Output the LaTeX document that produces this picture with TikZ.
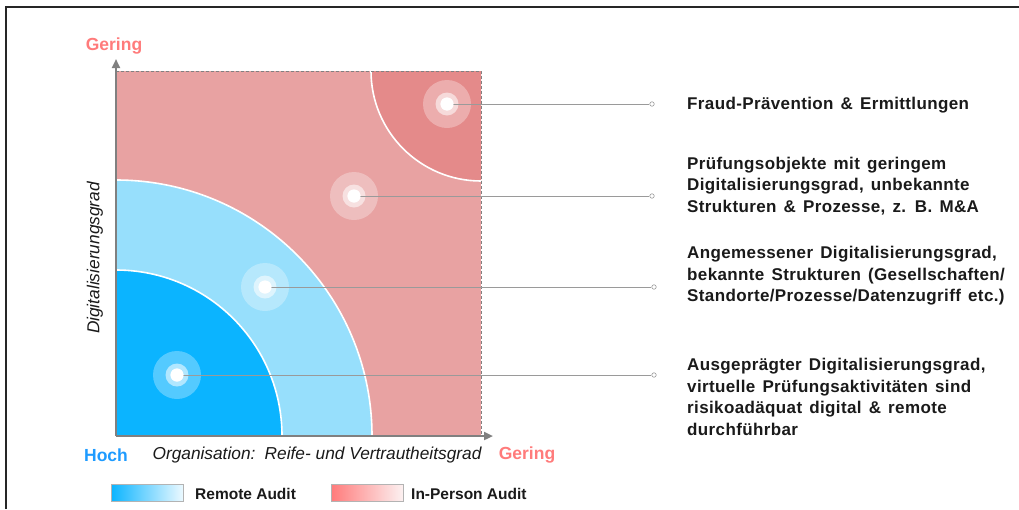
\documentclass[tikz,border=0pt]{standalone}
\usepackage{fontspec}
\setmainfont{Liberation Sans}
\newfontfamily\descfont[LetterSpace=2.2,WordSpace=1.4]{Liberation Sans}
\usetikzlibrary{arrows.meta}
\definecolor{pinkbg}{HTML}{E8A2A2}
\definecolor{pinkdark}{HTML}{E48A8A}
\definecolor{bluelight}{HTML}{97DFFC}
\definecolor{bluedeep}{HTML}{0BB4FF}
\definecolor{axisgray}{HTML}{808080}
\definecolor{linkgray}{HTML}{9A9A9A}
\definecolor{lowred}{HTML}{FF7B7B}
\definecolor{highblue}{HTML}{1E9BFF}
\definecolor{txt}{HTML}{1A1A1A}
\tikzset{
  descr/.style={anchor=west, align=left, text=txt, inner sep=0pt,
    font=\descfont\fontsize{17}{21.4}\selectfont\bfseries},
  linkline/.style={draw=linkgray, line width=1pt},
  linkend/.style={circle, draw=linkgray, fill=white, line width=0.6pt, minimum size=4.5pt, inner sep=0pt},
  halo/.style={circle, fill=white, fill opacity=0.3, minimum size=48pt, inner sep=0pt},
  ring/.style={circle, fill=white, fill opacity=0.55, minimum size=23pt, inner sep=0pt},
  core/.style={circle, fill=white, minimum size=13pt, inner sep=0pt},
  axislabel/.style={font=\fontsize{17.5}{19}\selectfont\bfseries},
  axisname/.style={font=\fontsize{17.3}{19}\selectfont\itshape, text=txt},
  legendbox/.style={minimum width=72pt, minimum height=17pt, inner sep=0pt, draw=axisgray!60, line width=0.6pt},
  legendtext/.style={anchor=west, inner sep=0pt, text=txt, font=\fontsize{15.5}{17}\selectfont\bfseries}
}
\begin{document}
\begin{tikzpicture}[x=1pt, y=-1pt]
\useasboundingbox (0,0) rectangle (1019,509);
% outer frame (top and left edges)
\draw[line width=1.8pt, black!85] (6,509) -- (6,7) -- (1019,7);

% plot areas
\coordinate (O) at (116,436);
\coordinate (TR) at (481,71);
\fill[pinkbg] (116,71) rectangle (481,436);
\begin{scope}
  \clip (116,71) rectangle (481,436);
  \fill[pinkdark] (TR) circle (110);
  \draw[white, line width=1.6pt] (TR) circle (110);
  \fill[bluelight] (O) circle (256);
  \draw[white, line width=1.6pt] (O) circle (256);
  \fill[bluedeep] (O) circle (166);
  \draw[white, line width=1.6pt] (O) circle (166);
\end{scope}
\draw[axisgray, dashed, line width=0.9pt, dash pattern=on 3pt off 2pt] (116,71) -- (481,71) -- (481,436);

% axes
\coordinate (ytip) at (116,59);
\coordinate (xtip) at (493,436);
\draw[axisgray, line width=2.2pt, -{Triangle[length=9pt, width=8pt]}] (O) -- (ytip);
\draw[axisgray, line width=2.2pt, -{Triangle[length=9pt, width=8pt]}] (O) -- (xtip);

% axis labels
\node[axislabel, text=lowred] (ylow) at (114,46) {Gering};
\node[axislabel, text=highblue] (xhigh) at (106,455) {Hoch};
\node[axislabel, text=lowred] (xlow) at (527,455) {Gering};
\node[axisname] (xname) at (317,455) {Organisation:\, Reife- und Vertrautheitsgrad};
\node[axisname, rotate=90] (yname) at (95,258) {Digitalisierungsgrad};

% markers
\foreach \n/\x/\y in {m1/447/104, m2/354/196, m3/265/287, m4/177/375} {
  \node[halo] at (\x,\y) {};
  \node[ring] at (\x,\y) {};
  \node[core] (\n) at (\x,\y) {};
}

% connector ends
\node[linkend] (e1) at (652,104) {};
\node[linkend] (e2) at (652,196) {};
\node[linkend] (e3) at (654,287) {};
\node[linkend] (e4) at (654,375) {};
\foreach \i in {1,...,4} {
  \draw[linkline] (m\i.center) -- (e\i.west);
}
\foreach \i in {1,...,4} {
  \node[core] at (m\i) {};
}

% descriptions
\node[descr] (d1) at (687,105) {Fraud-Prävention \& Ermittlungen};
\node[descr] (d2) at (687,186) {Prüfungsobjekte mit geringem\\Digitalisierungsgrad, unbekannte\\Strukturen \& Prozesse, z. B. M\&A};
\node[descr] (d3) at (687,276) {Angemessener Digitalisierungsgrad,\\bekannte Strukturen (Gesellschaften/\\Standorte/Prozesse/Datenzugriff etc.)};
\node[descr] (d4) at (687,397) {Ausgeprägter Digitalisierungsgrad,\\virtuelle Prüfungsaktivitäten sind\\risikoadäquat digital \& remote\\durchführbar};

% legend
\node[legendbox, left color=bluedeep, right color=bluedeep!8] (lb) at (147,493) {};
\node[legendtext] (lbt) at (195,494) {Remote Audit};
\node[legendbox, left color=lowred, right color=pinkbg!15] (lp) at (367,493) {};
\node[legendtext] (lpt) at (411,494) {In-Person Audit};
\end{tikzpicture}
\end{document}
